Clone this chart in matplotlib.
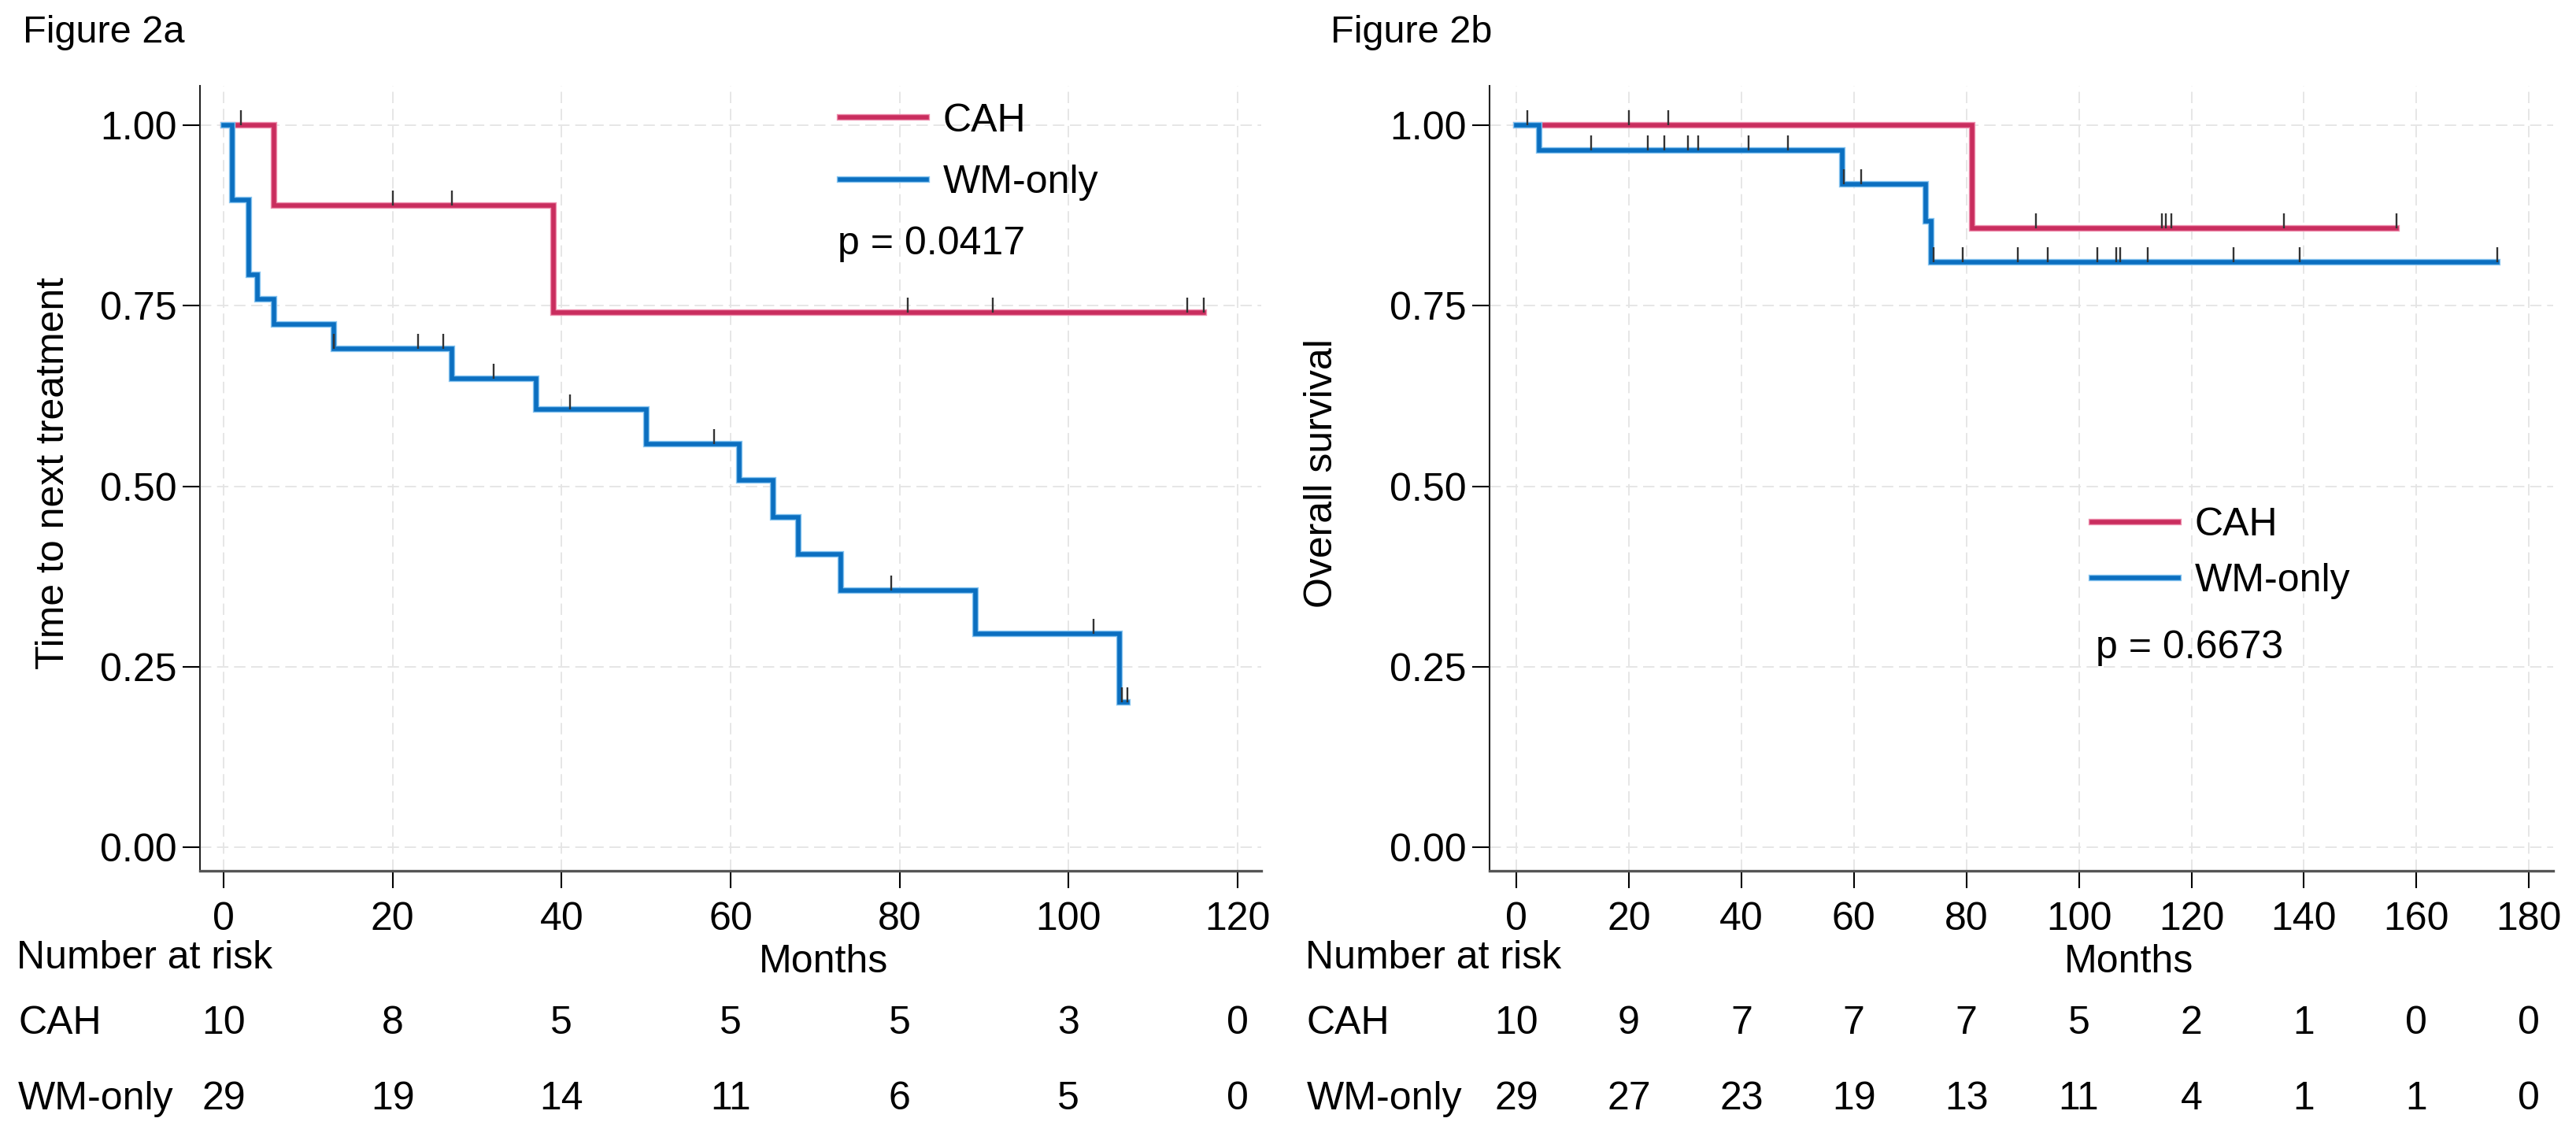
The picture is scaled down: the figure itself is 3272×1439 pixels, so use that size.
import numpy as np
import matplotlib
matplotlib.use("Agg")
import matplotlib.pyplot as plt
import matplotlib.patheffects as pe
from matplotlib.path import Path
from matplotlib.lines import Line2D
import matplotlib.transforms as mtransforms

plt.rcParams['font.family'] = ['Liberation Sans', 'DejaVu Sans']

# ---------------- data ----------------
# Figure 2a : time to next treatment
a_cah_t = [0, 6, 39, 116]
a_cah_s = [1.0, 0.889, 0.741, 0.741]
a_cah_c = [2, 20, 27, 81, 91, 114, 116]

a_wm_t = [0, 1, 3, 4, 6, 13, 27, 37, 50, 61, 65, 68, 73, 89, 106, 107]
a_wm_s = [1.0, 0.897, 0.793, 0.759, 0.724, 0.690, 0.649, 0.606, 0.559,
          0.508, 0.457, 0.406, 0.355, 0.296, 0.200, 0.200]
a_wm_c = [13, 23, 26, 32, 41, 58, 79, 103, 106.3, 107]

a_ticks = [0, 20, 40, 60, 80, 100, 120]
a_risk_cah = [10, 8, 5, 5, 5, 3, 0]
a_risk_wm = [29, 19, 14, 11, 6, 5, 0]
a_p = "p = 0.0417"
a_ylabel = "Time to next treatment"

# Figure 2b : overall survival
b_cah_t = [0, 81, 156.5]
b_cah_s = [1.0, 0.857, 0.857]
b_cah_c = [2, 20, 27, 92.4, 114.8, 115.5, 116.4, 136.4, 156.5]

b_wm_t = [0, 4, 58, 72.7, 73.7, 174.4]
b_wm_s = [1.0, 0.966, 0.919, 0.867, 0.811, 0.811]
b_wm_c = [13.3, 23.4, 26.3, 30.5, 32.3, 41.3, 48.3, 58.2, 61.3, 74.1, 79.4,
          89.2, 94.4, 103.3, 106.6, 107.4, 112.3, 127.5, 139.3, 174.4]

b_ticks = [0, 20, 40, 60, 80, 100, 120, 140, 160, 180]
b_risk_cah = [10, 9, 7, 7, 7, 5, 2, 1, 0, 0]
b_risk_wm = [29, 27, 23, 19, 13, 11, 4, 1, 1, 0]
b_p = "p = 0.6673"
b_ylabel = "Overall survival"

groups = ["CAH", "WM-only"]
yticks = [0.0, 0.25, 0.50, 0.75, 1.00]

# ---------------- style ----------------
W, H = 3272, 1439
DPI = 100
FS = 36
C_CAH = "#C92D5E"
C_CAH_L = "#EE8FAE"
C_WM = "#0B6FC0"
C_WM_L = "#86C4F0"
TICKC = "#333333"
LW = 4.0
LW_HALO = 6.0

fig = plt.figure(figsize=(W / DPI, H / DPI), dpi=DPI)

censor_marker = Path([(0, 0), (0, 1)], [Path.MOVETO, Path.LINETO])


def fx(px):
    return px / W


def fy(py):
    return 1 - py / H


def step_val(t, s, x):
    idx = np.searchsorted(np.asarray(t), x, side='right') - 1
    return np.asarray(s)[idx]


def panel(rect, xlim, ticks, cah, wm, risk_cah, risk_wm, ylabel, ylab_x,
          title, title_x, ptxt, pxy, leg_anchor, leg_space, lab_x, months_x):
    ax = fig.add_axes(rect)
    ax.set_xlim(*xlim)
    ax.set_ylim(-0.033, 1.055)
    for xv in ticks:
        ax.axvline(xv, color="#E4E4E4", lw=1.3, ls=(0, (8, 4)), zorder=0)
    for yv in yticks:
        ax.axhline(yv, color="#E4E4E4", lw=1.3, ls=(0, (8, 4)), zorder=0)

    handles = []
    for (t, s, c), col, coll in zip([cah, wm], [C_CAH, C_WM], [C_CAH_L, C_WM_L]):
        effects = [pe.Stroke(linewidth=LW_HALO, foreground=coll), pe.Normal()]
        ax.step(t, s, where='post', color=col, lw=LW, zorder=3,
                solid_joinstyle='miter', path_effects=effects)
        ys = step_val(t, s, c)
        ax.plot(c, ys, ls='none', marker=censor_marker, ms=28, mew=1.7,
                mec=TICKC, zorder=4)
        handles.append(Line2D([], [], color=col, lw=LW, path_effects=effects))

    ax.legend(handles, groups, loc='upper left', bbox_to_anchor=leg_anchor,
              frameon=False, fontsize=FS, handlelength=2.2, handletextpad=0.42,
              labelspacing=leg_space, borderpad=0, borderaxespad=0)
    ax.text(pxy[0], pxy[1], ptxt, fontsize=FS, ha='left', va='center')

    ax.set_xticks(ticks)
    ax.set_yticks(yticks)
    ax.set_yticklabels([f"{v:.2f}" for v in yticks])
    ax.tick_params(axis='both', labelsize=FS, length=16, width=1.5,
                   direction='out', color='black')
    ax.tick_params(axis='y', pad=5)
    ax.tick_params(axis='x', pad=12)
    for sp in ['top', 'right']:
        ax.spines[sp].set_visible(False)
    ax.spines['left'].set_color('#222222')
    ax.spines['left'].set_linewidth(1.5)
    ax.spines['bottom'].set_color('#555555')
    ax.spines['bottom'].set_linewidth(2.4)

    fig.text(fx(ylab_x), fy(601), ylabel, rotation=90, fontsize=FS,
             ha='center', va='center')
    fig.text(fx(title_x), fy(41), title, fontsize=FS - 1, ha='left', va='center')

    # number at risk table
    fig.text(fx(lab_x), fy(1217), "Number at risk", fontsize=FS, ha='left', va='center')
    fig.text(fx(months_x), fy(1222), "Months", fontsize=FS, ha='center', va='center')
    tr = mtransforms.blended_transform_factory(ax.transData, fig.transFigure)
    for row_y, name, vals in [(1300, groups[0], risk_cah), (1396, groups[1], risk_wm)]:
        fig.text(fx(lab_x + 2), fy(row_y), name, fontsize=FS, ha='left', va='center')
        for xv, v in zip(ticks, vals):
            ax.text(xv, fy(row_y), str(v), transform=tr, fontsize=FS,
                    ha='center', va='center', clip_on=False)
    return ax


axA = panel([fx(254), fy(1106), fx(1602 - 254), (1106 - 109) / H],
            (-2.8, 122.8), a_ticks,
            (a_cah_t, a_cah_s, a_cah_c), (a_wm_t, a_wm_s, a_wm_c),
            a_risk_cah, a_risk_wm, a_ylabel, 68, "Figure 2a", 29,
            a_p, (72.7, 0.836), (0.603, 0.978), 0.65, 21, 1046)

axB = panel([fx(1892), fy(1106), fx(3243 - 1892), (1106 - 109) / H],
            (-4.76, 184.3), b_ticks,
            (b_cah_t, b_cah_s, b_cah_c), (b_wm_t, b_wm_s, b_wm_c),
            b_risk_cah, b_risk_wm, b_ylabel, 1679, "Figure 2b", 1690,
            b_p, (103, 0.276), (0.566, 0.463), 0.5, 1658, 2704)

fig.savefig("out.png", dpi=DPI, facecolor='white')
